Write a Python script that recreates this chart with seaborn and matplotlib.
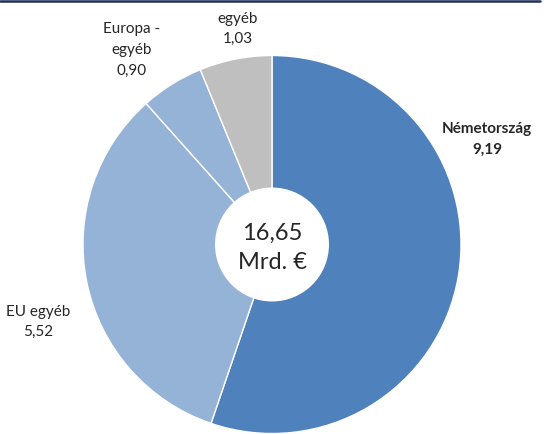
import matplotlib
matplotlib.use("Agg")
import matplotlib.pyplot as plt
from matplotlib.lines import Line2D
from matplotlib.patches import Circle
import seaborn as sns

# data
categories = ["Németország", "EU egyéb", "Europa -\negyéb", "egyéb"]
values = [9.19, 5.52, 0.90, 1.03]
total_label = "16,65\nMrd. €"

sns.set_style("white")
plt.rcParams['font.family'] = ['Lato', 'DejaVu Sans']

colors = ["#4F81BD", "#95B3D7", "#95B3D7", "#BFBFBF"]

fig = plt.figure(figsize=(5.44, 4.34), dpi=100)
ax = fig.add_axes([0, 0, 1, 1])
ax.axis("off")

ax.pie(values, colors=colors, startangle=90, counterclock=False,
       center=(272, 189.5), radius=189,
       wedgeprops=dict(edgecolor="white", linewidth=1))
ax.set_xlim(0, 544)
ax.set_ylim(0, 434)
ax.set_aspect("equal")

# white hole in the middle
ax.add_patch(Circle((272, 189.5), 57, facecolor="white", edgecolor="none", zorder=5))
ax.text(272, 434 - 248, total_label, ha="center", va="center", fontsize=17,
        linespacing=1.45, zorder=6)

def fmt(v):
    return f"{v:.2f}".replace(".", ",")

# label positions (pixels from top-left)
label_pos = [(487, 139), (38, 322), (132, 50), (238, 29)]
for i, (name, v) in enumerate(zip(categories, values)):
    x, y = label_pos[i]
    ax.text(x, 434 - y, f"{name}\n{fmt(v)}", ha="center", va="center",
            fontsize=11, fontweight="bold" if i == 0 else "normal",
            linespacing=1.6)

fig.add_artist(Line2D([0, 0.993], [0.997, 0.997], color="#1F2D5A", linewidth=1.8))

fig.savefig("out.png", dpi=100)
